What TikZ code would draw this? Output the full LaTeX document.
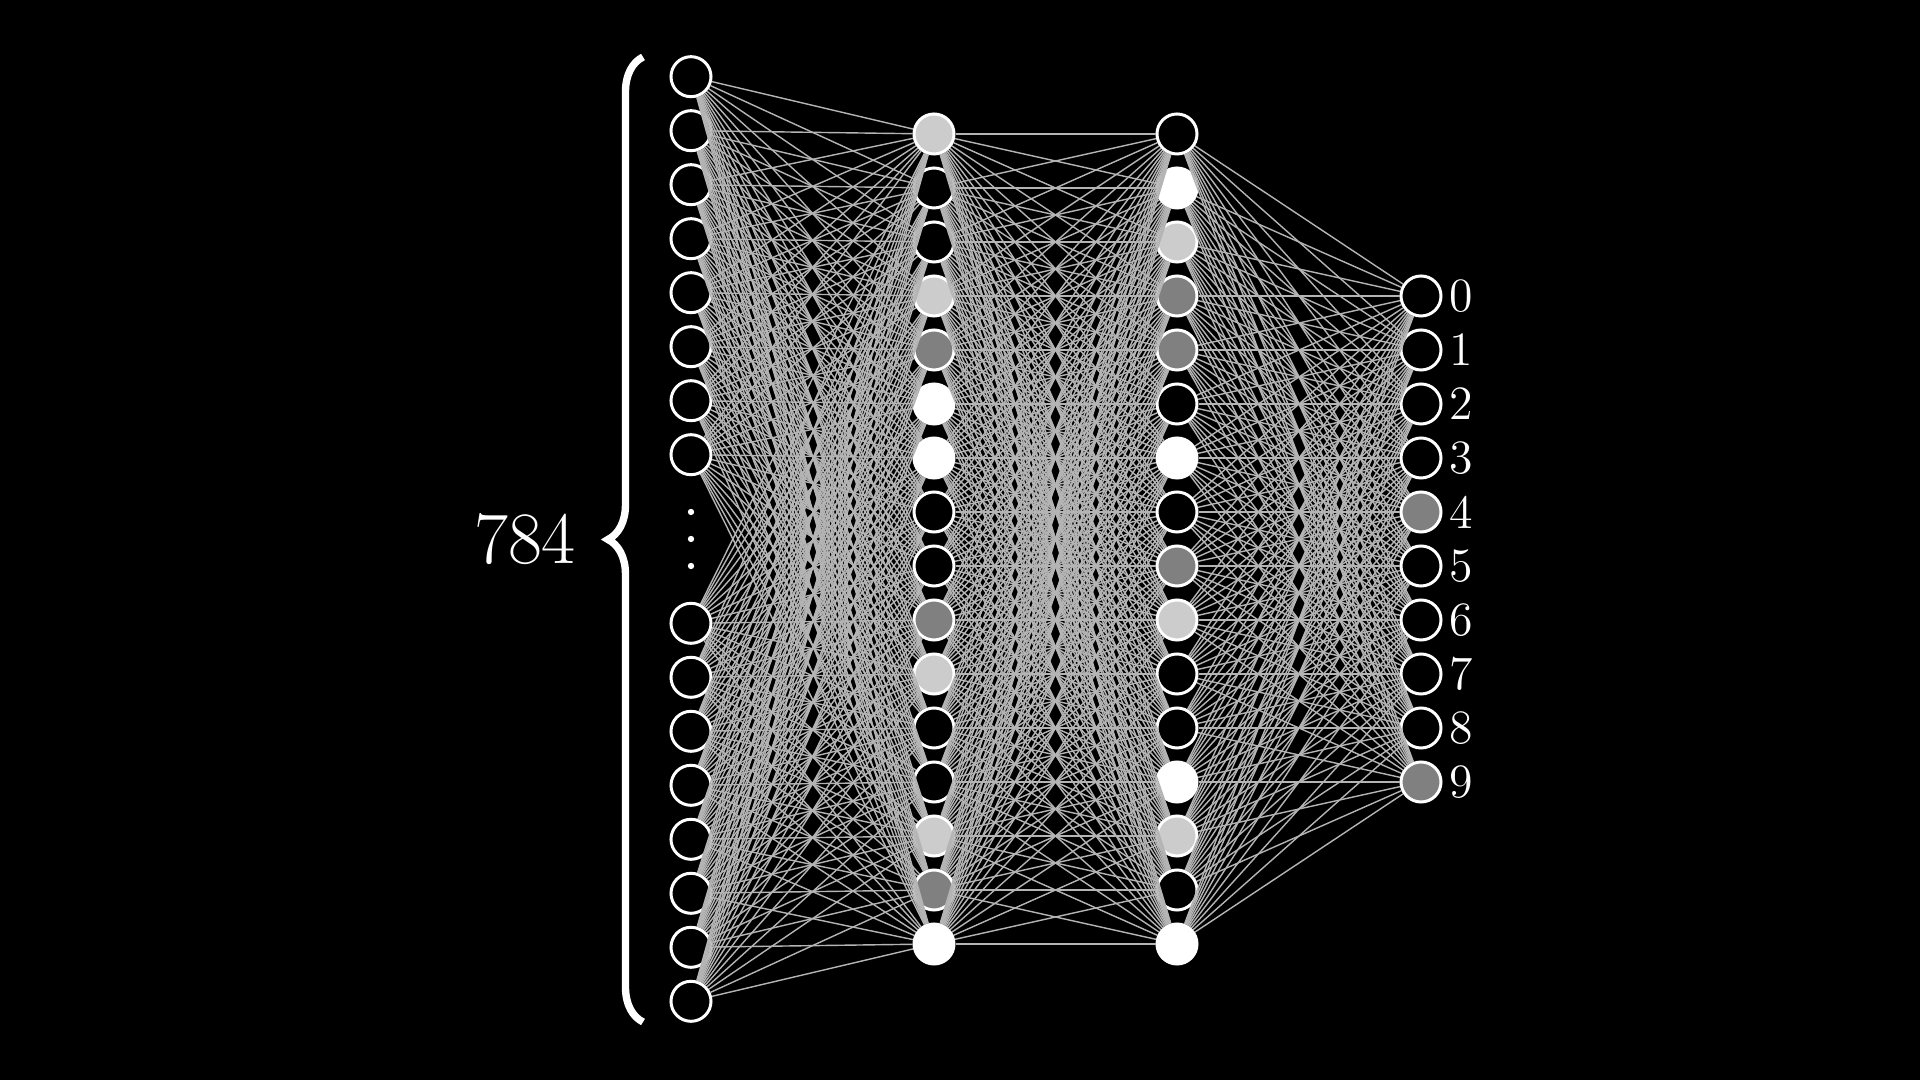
\documentclass[tikz,border=0pt]{standalone}
\usepackage{tikz}
\usetikzlibrary{positioning, decorations.pathreplacing}
\definecolor{lgray}{HTML}{CCCCCC}
\definecolor{mgray}{HTML}{808080}
\definecolor{wire}{HTML}{B4B4B4}

\begin{document}
\begin{tikzpicture}[x=0.01cm, y=-0.01cm,
    neuron/.style={circle, draw=white, line width=0.85pt, minimum size=0.4cm, inner sep=0pt},
    wire/.style={draw=wire, line width=0.4pt},
    digit/.style={text=white, font=\fontsize{13.6}{16}\selectfont, inner sep=0pt}]
  \fill[black] (0,0) rectangle (1920,1080);
  \useasboundingbox (0,0) rectangle (1920,1080);
  % input layer
  \foreach \i in {1,...,8}
    \node[neuron, fill=black] (in\i) at (691, {76.7+54*(\i-1)}) {};
  \foreach \i in {9,...,16}
    \node[neuron, fill=black] (in\i) at (691, {623.3+54*(\i-9)}) {};
  \foreach \y in {512,539,566}
    \fill[white] (691,\y) circle (0.9pt);
  % hidden layers
  \foreach \c [count=\i] in {lgray,black,black,lgray,mgray,white,white,black,black,mgray,lgray,black,black,lgray,mgray,white}
    \node[neuron, fill=\c] (ha\i) at (934, {134+54*(\i-1)}) {};
  \foreach \c [count=\i] in {black,white,lgray,mgray,mgray,black,white,black,mgray,lgray,black,black,white,lgray,black,white}
    \node[neuron, fill=\c] (hb\i) at (1177, {134+54*(\i-1)}) {};
  % output layer
  \foreach \c [count=\i] in {black,black,black,black,mgray,black,black,black,black,mgray}
    \node[neuron, fill=\c] (out\i) at (1421, {296+54*(\i-1)}) {};
  \foreach \i in {1,...,10}
    \node[digit, right=0.06cm of out\i] (lab\i) {\pgfmathparse{int(\i-1)}\pgfmathresult};
  % connections
  \foreach \i in {1,...,16}
    \foreach \j in {1,...,16}
      \draw[wire] (in\i) -- (ha\j);
  \foreach \i in {1,...,16}
    \foreach \j in {1,...,16}
      \draw[wire] (ha\i) -- (hb\j);
  \foreach \i in {1,...,16}
    \foreach \j in {1,...,10}
      \draw[wire] (hb\i) -- (out\j);
  % brace and count
  \coordinate (bbot) at (643,1022);
  \coordinate (btop) at (643,57);
  \draw[white, line width=2.1pt, decorate, decoration={brace, amplitude=0.35cm}] (bbot) -- (btop);
  \node[text=white, font=\fontsize{21}{25}\selectfont] (count) at (525,539) {784};
\end{tikzpicture}
\end{document}
